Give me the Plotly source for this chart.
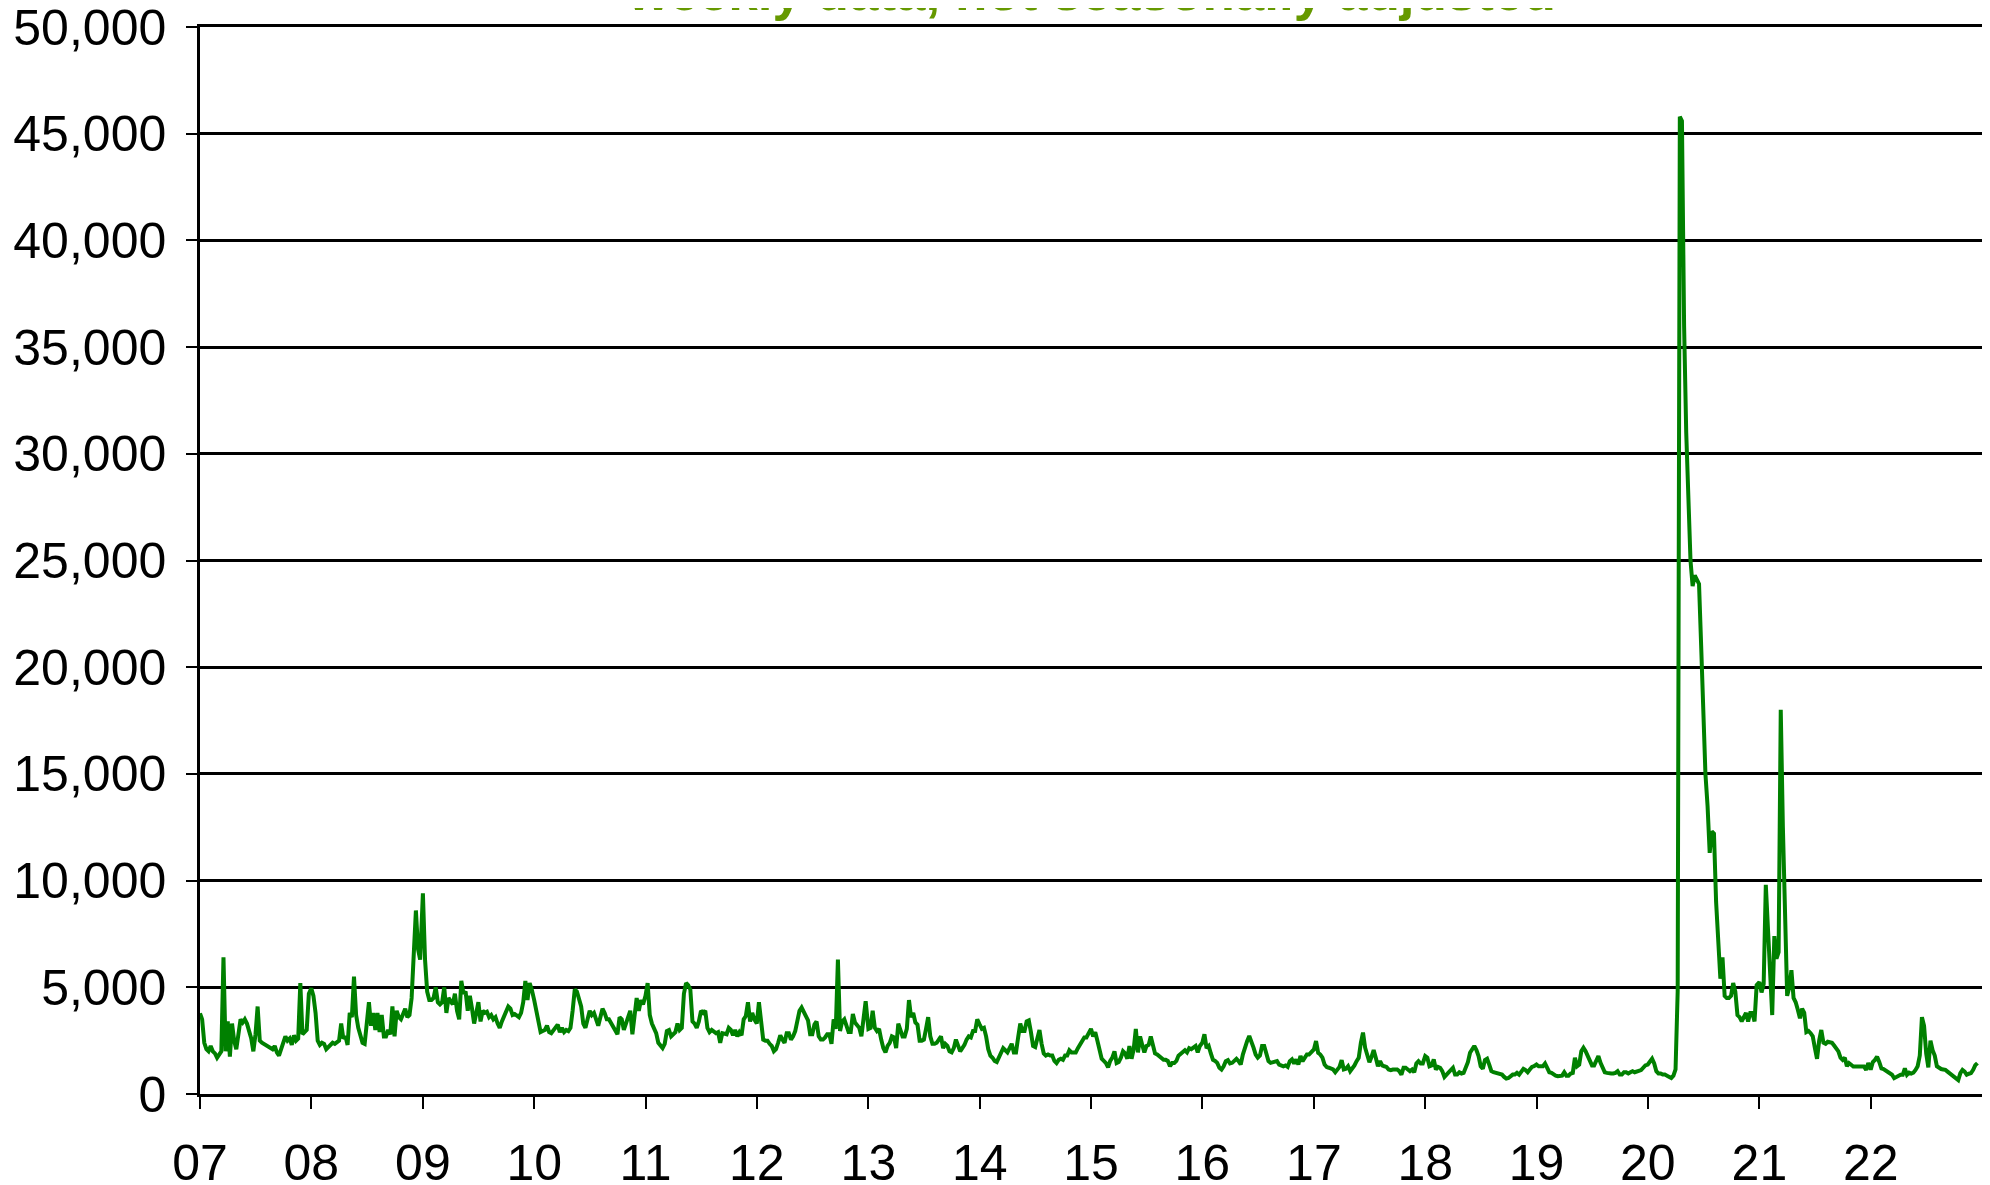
import pandas as pd
import plotly.graph_objects as go

# weekly values, one list per year
y2007 = [3780,3500,2400,2100,2000,2250,2000,1900,1700,1900, 2000,6400,2000,3400,1750,3300,2500,2100,2700,3500,
         3350,3500,3300,2900,2600,2000,2800,4100,2500,2400, 2350,2300,2200,2150,2100,2250,1950,1800,2100,2400,
         2700,2500,2600,2300,2750,2500,2600,5200,2800,2900, 3000,4700]
y2008 = [4950,4600,3800,2500,2300,2400,2350,2100,2200,2300, 2400,2350,2400,2500,3300,2600,2700,2300,3800,3600,
         5500,3700,3100,2800,2400,2350,3300,4300,3200,3800, 3000,3800,2900,3700,2700,2700,3000,2800,4100,2700,
         3900,3600,3500,3700,4000,3600,3700,4500,7000,8600, 6800,6300]
y2009 = [9400,6300,4800,4400,4400,4500,5000,4300,4200,4300, 5000,3800,4500,4300,4200,4700,3900,3500,5300,4700,
         4800,3900,4600,4000,3300,3800,4300,3400,3900,3800, 3850,3600,3700,3500,3600,3300,3100,3400,3600,3900,
         4100,4000,3700,3750,3700,3600,3800,4300,5300,4400, 5200,4900]
y2010 = [4400,3900,3300,2900,2950,3000,3200,2900,2850,3000, 3100,3250,2900,3100,2900,3000,2950,3100,3900,4900,
         4800,4400,4100,3300,3100,3500,3900,3700,3800,3500, 3200,3600,4000,3800,3500,3500,3300,3150,2900,2800,
         3600,3500,3000,3300,3700,3900,2800,3700,4500,3900, 4400,4200]
y2011 = [4600,5200,3700,3300,3100,2850,2400,2250,2150,2350, 2950,3000,2700,2800,2900,3300,3000,3100,4700,5200,
         5100,4900,3400,3300,3100,3400,3900,3800,3900,3100, 2900,3000,2950,2850,2900,2400,2850,2800,2800,3100,
         3000,2750,3000,2700,2900,2750,3500,3650,4300,3400, 3800,3500]
y2012 = [3300,4300,3200,2550,2500,2500,2350,2250,2000,2100, 2400,2750,2550,2400,2850,2850,2550,2700,2950,3500,
         3900,4050,3800,3650,3450,2800,2800,3250,3400,2700, 2550,2550,2650,2800,2800,2350,3500,3050,6300,2950,
         3400,3500,3200,2900,2900,3750,3350,3250,3100,2700, 3400,4350]
y2013 = [3050,3100,3900,3100,2950,3050,2550,2150,1950,2250, 2400,2700,2650,2150,3300,3050,2700,2700,3050,4400,
         3600,3800,3350,3250,2500,2500,2550,3050,3600,2700, 2350,2350,2400,2550,2700,2150,2350,2250,2000,1950,
         2150,2550,2250,2000,2150,2300,2550,2700,2650,2950, 2950,3500]
y2014 = [3250,3050,3100,2700,2100,1800,1700,1550,1500,1700, 1950,2150,2050,1950,2150,2350,1950,1950,2650,3300,
         2950,2950,3400,3450,2900,2250,2200,2600,3000,2350, 1900,1800,1850,1800,1800,1550,1450,1600,1650,1600,
         1800,1800,2050,1950,1950,1950,2150,2350,2550,2650, 2650,2850]
y2015 = [3050,2700,2900,2500,1950,1650,1550,1450,1250,1550, 1700,2000,1450,1500,1700,2000,1900,1650,2250,1650,
         2100,3050,1950,2700,2300,1950,2250,2300,2700,2200, 1900,1850,1750,1700,1600,1600,1550,1300,1450,1450,
         1550,1800,1900,1950,2050,1950,2150,2100,2150,2250, 1950,2250]
y2016 = [2400,2800,2150,2250,1900,1600,1550,1460,1230,1150, 1300,1540,1590,1430,1460,1590,1650,1540,1380,1850,
         2250,2480,2720,2480,2170,1850,1700,1800,2250,2250, 1850,1540,1460,1490,1540,1540,1380,1340,1300,1340,
         1270,1540,1620,1430,1620,1380,1780,1540,1740,1850, 1850,1930]
y2017 = [2090,2480,1930,1850,1700,1380,1260,1230,1180,1150, 1020,1150,1270,1590,1150,1180,1300,1070,1180,1340,
         1540,1700,2400,2880,2170,1850,1490,1740,2060,1700, 1300,1540,1340,1300,1270,1150,1120,1150,1150,1150,
         1070,910,1230,1230,1150,1070,1150,1020,1430,1540, 1430,1430]
y2018 = [1780,1700,1300,1340,1620,1150,1270,1230,1070,800, 910,1020,1070,1230,910,910,1020,960,990,1270,
         1490,1930,2090,2250,2060,1780,1300,1180,1590,1650, 1380,1070,1020,990,960,910,910,800,720,750,
         830,910,910,990,910,1020,1180,1120,1020,1150, 1270,1300]
y2019 = [1380,1300,1300,1300,1430,1180,1020,990,910,860, 830,830,860,1020,860,860,960,990,1700,1300,
         1380,2010,2170,2010,1780,1620,1340,1340,1540,1780, 1460,1230,1020,990,960,960,960,990,1070,910,
         910,1020,1020,960,1020,1070,1020,1070,1070,1120, 1230,1340]
y2020 = [1380,1490,1650,1430,1070,960,960,910,910,860, 800,750,860,1150,4800,45800,45600,36000,31000,27500,
         25000,23800,24300,24100,23900,21000,18000,15000,13500,11300, 12300,12200,9000,7000,5400,6400,4600,4500,4500,4600,
         5200,4800,3700,3600,3400,3600,3800,3400,3800,3800, 3400,5100]
y2021 = [5240,4760,5160,9800,7440,6020,3700,7400,6340,6650, 18000,12500,7500,4600,5000,5800,4500,4300,3950,3550,
         4000,3800,2900,2950,2850,2700,2150,1650,2500,3000, 2400,2350,2450,2400,2400,2270,2150,2000,1700,1600,
         1700,1300,1450,1370,1290,1290,1290,1260,1290,1290, 1130,1450]
y2022 = [1140,1500,1600,1750,1500,1200,1170,1100,1030,950, 900,740,800,850,900,900,1200,900,1000,960,
         1000,1130,1300,1800,3600,3200,1900,1250,2500,2050, 1800,1300,1230,1170,1150,1130,1050,970,900,850,
         780,650,980,1130,1050,900,950,980,1130,1350, 1450]

years = list(range(2007, 2023))
year_values = [y2007, y2008, y2009, y2010, y2011, y2012, y2013, y2014,
               y2015, y2016, y2017, y2018, y2019, y2020, y2021, y2022]
tick_labels = ["07", "08", "09", "10", "11", "12", "13", "14",
               "15", "16", "17", "18", "19", "20", "21", "22"]
title_text = "weekly data, not seasonally adjusted"

dates, values = [], []
for yr, vals in zip(years, year_values):
    for i, v in enumerate(vals):
        dates.append(pd.Timestamp(yr, 1, 1) + pd.Timedelta(days=7 * i))
        values.append(v)

FONT = "Liberation Sans, Arial, sans-serif"

fig = go.Figure()
fig.add_trace(go.Scatter(x=dates, y=values, mode="lines",
                         line=dict(color="#008000", width=4), showlegend=False,
                         hoverinfo="skip"))

# page body adds an 8px margin; the figure is sized so the page fits the window
fig.update_layout(
    width=1982, height=1177,
    margin=dict(l=192, r=8, t=19, b=91),
    paper_bgcolor="white", plot_bgcolor="white",
    font=dict(family=FONT, size=50, color="black"),
    annotations=[dict(text="<b>" + title_text + "</b>", xref="paper", yref="paper",
                      x=0.5, y=1.004, xanchor="center", yanchor="bottom",
                      showarrow=False, font=dict(family=FONT, size=53, color="#669900"))],
)
fig.update_xaxes(
    type="date", automargin=False, ticklabeloverflow="allow",
    range=[pd.Timestamp(2007, 1, 1), pd.Timestamp(2023, 1, 1)],
    tickvals=[pd.Timestamp(y, 1, 1) for y in years], ticktext=tick_labels,
    ticks="outside", ticklen=12, tickwidth=2, tickcolor="black",
    ticklabelstandoff=11,
    showline=True, linecolor="black", linewidth=2.5, mirror=True,
    showgrid=False, zeroline=False,
    tickfont=dict(family=FONT, size=50, color="black"),
)
fig.update_yaxes(
    automargin=False, ticklabeloverflow="allow",
    range=[0, 50000], dtick=5000, tick0=0, tickformat=",d",
    ticks="outside", ticklen=11, tickwidth=2, tickcolor="black",
    ticklabelstandoff=10,
    showline=True, linecolor="black", linewidth=2.5, mirror=True,
    showgrid=True, gridcolor="black", gridwidth=2.5,
    zeroline=False,
    tickfont=dict(family=FONT, size=50, color="black"),
)

fig.write_html("out.html")
